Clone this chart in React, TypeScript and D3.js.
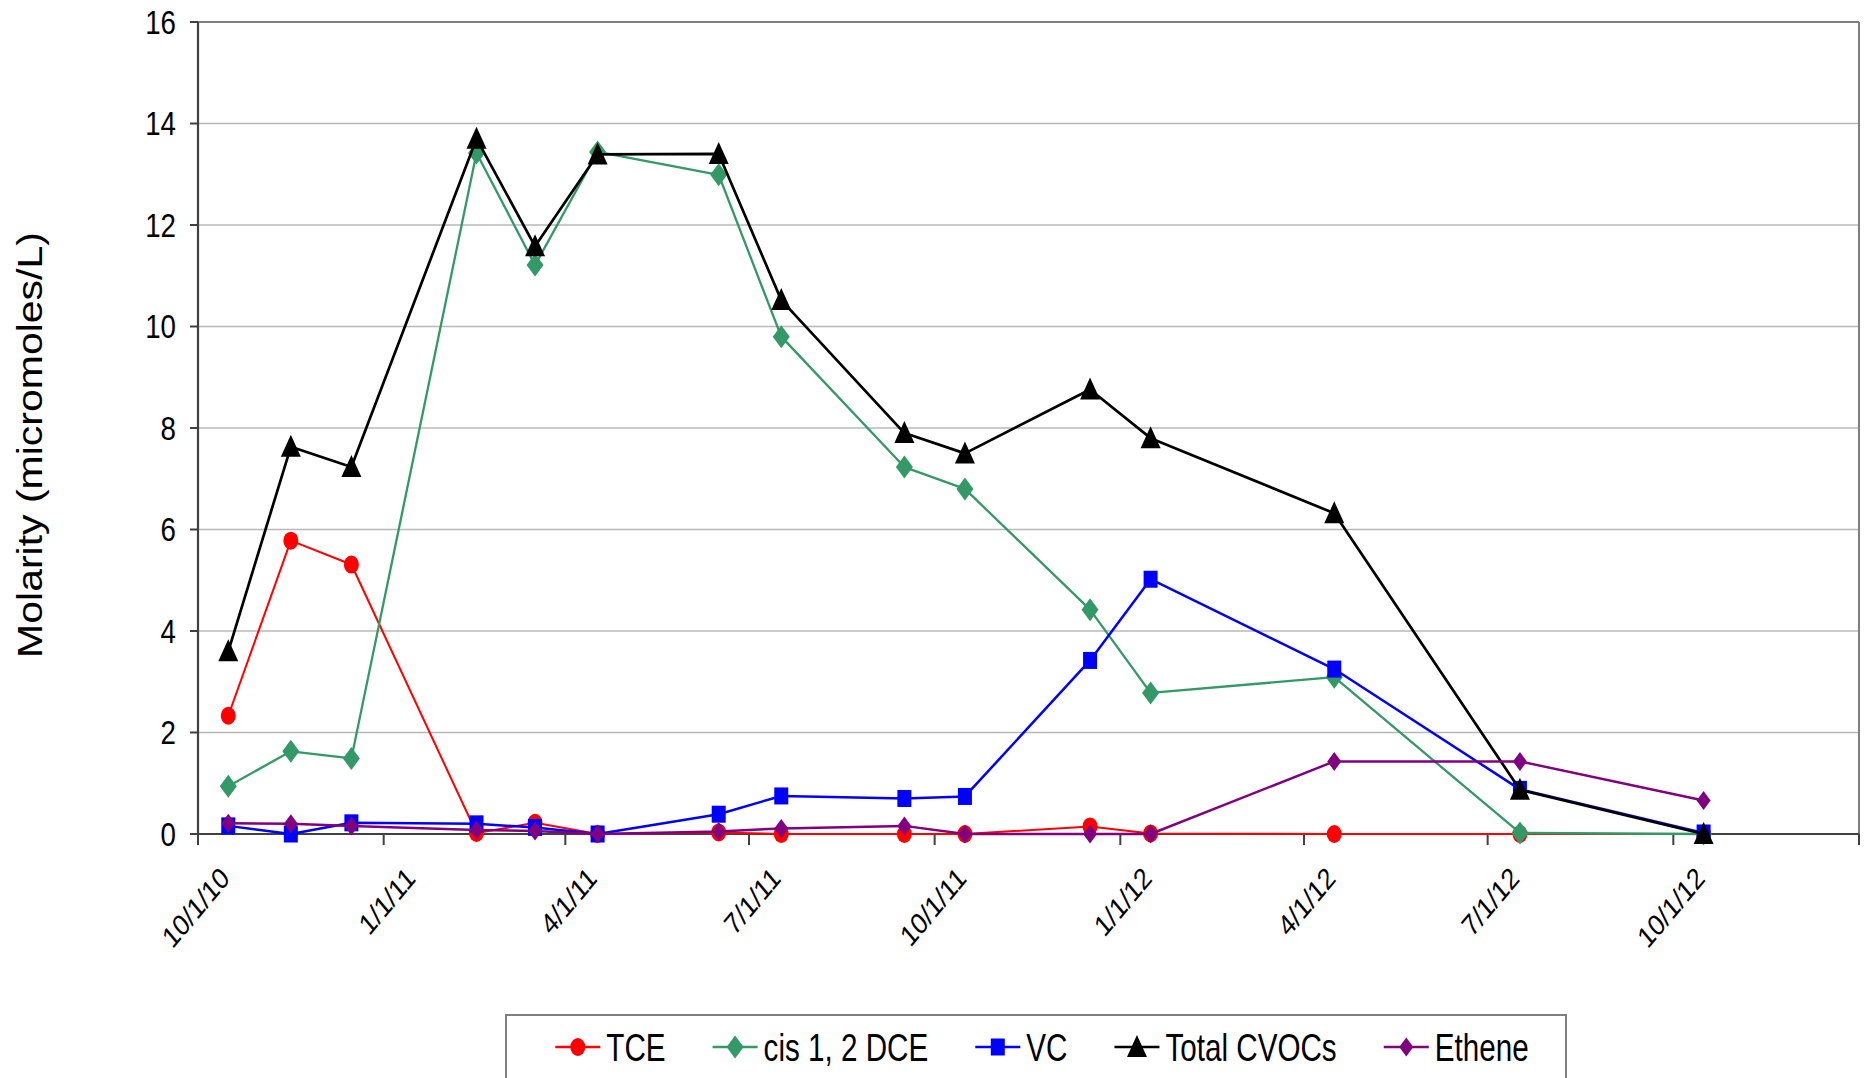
import React, { useEffect } from 'react';
import * as d3 from 'd3';

// ---------- data ----------
const sampleDates = [
  '2010-10-16', '2010-11-16', '2010-12-16', '2011-02-16', '2011-03-17',
  '2011-04-17', '2011-06-16', '2011-07-17', '2011-09-16', '2011-10-16',
  '2011-12-17', '2012-01-16', '2012-04-16', '2012-07-17', '2012-10-16',
];
const tce = [2.33, 5.78, 5.31, 0.02, 0.22, 0, 0.03, 0, 0, 0, 0.15, 0.01, 0, 0, 0];
const cisDce = [0.94, 1.63, 1.49, 13.42, 11.21, 13.44, 12.99, 9.8, 7.23, 6.8, 4.42, 2.78, 3.09, 0.02, 0];
const vc = [0.16, 0, 0.22, 0.2, 0.13, 0, 0.39, 0.75, 0.7, 0.74, 3.42, 5.02, 3.25, 0.88, 0.02];
const totalCvocs = [3.6, 7.63, 7.23, 13.7, 11.58, 13.39, 13.4, 10.52, 7.9, 7.5, 8.76, 7.8, 6.32, 0.87, 0];
const ethene = [0.21, 0.2, 0.16, 0.08, 0.06, 0, 0.05, 0.11, 0.16, 0, 0, 0, 1.43, 1.43, 0.66];

const seriesNames = ['TCE', 'cis 1, 2 DCE', 'VC', 'Total CVOCs', 'Ethene'];
const yTicks = [0, 2, 4, 6, 8, 10, 12, 14, 16];
const xTickDates = [
  '2010-10-01', '2011-01-01', '2011-04-01', '2011-07-01', '2011-10-01',
  '2012-01-01', '2012-04-01', '2012-07-01', '2012-10-01', '2013-01-01',
];
const xTickLabels = ['10/1/10', '1/1/11', '4/1/11', '7/1/11', '10/1/11', '1/1/12', '4/1/12', '7/1/12', '10/1/12', ''];
const yTitle = 'Molarity (micromoles/L)';

// ---------- styling ----------
const W = 1866;
const H = 1078;
const M = { left: 198, right: 1859, top: 22, bottom: 834 };
const FONT = '"Liberation Sans", Arial, sans-serif';

type MarkerKind = 'circle' | 'diamond' | 'square' | 'triangle' | 'smallDiamond';
const seriesStyle: { color: string; marker: MarkerKind; width: number }[] = [
  { color: '#FF0000', marker: 'circle', width: 2 },
  { color: '#339966', marker: 'diamond', width: 2.3 },
  { color: '#0000FF', marker: 'square', width: 2.5 },
  { color: '#000000', marker: 'triangle', width: 2.7 },
  { color: '#800080', marker: 'smallDiamond', width: 2.5 },
];

const parse = d3.timeParse('%Y-%m-%d');

function Marker({ kind, x, y, color }: { kind: MarkerKind; x: number; y: number; color: string }) {
  switch (kind) {
    case 'circle':
      return <ellipse cx={x} cy={y} rx={7.5} ry={9} fill={color} />;
    case 'diamond':
      return <polygon points={`${x},${y - 11.5} ${x + 8.5},${y} ${x},${y + 11.5} ${x - 8.5},${y}`} fill={color} />;
    case 'smallDiamond':
      return <polygon points={`${x},${y - 9.5} ${x + 7},${y} ${x},${y + 9.5} ${x - 7},${y}`} fill={color} />;
    case 'square':
      return <rect x={x - 7} y={y - 8.5} width={14} height={17} fill={color} />;
    case 'triangle':
      return <polygon points={`${x},${y - 12} ${x + 10},${y + 10} ${x - 10},${y + 10}`} fill={color} />;
  }
  return null;
}

let measureCtx: CanvasRenderingContext2D | null = null;
function measure(text: string, size: number) {
  if (!measureCtx) {
    const c = document.createElement('canvas');
    measureCtx = c.getContext('2d');
  }
  if (!measureCtx) return text.length * size * 0.5;
  measureCtx.font = `${size}px "Liberation Sans", Arial, sans-serif`;
  return measureCtx.measureText(text).width;
}

export default function App() {
  useEffect(() => {
    document.body.style.margin = '0';
  }, []);

  const x = d3.scaleTime()
    .domain([parse('2010-10-01') as Date, parse('2013-01-01') as Date])
    .range([M.left, M.right]);
  const y = d3.scaleLinear().domain([0, 16]).range([M.bottom, M.top]);

  const dates = sampleDates.map((d) => parse(d) as Date);
  const allSeries = [tce, cisDce, vc, totalCvocs, ethene];

  const line = d3.line<[Date, number]>()
    .x((d) => x(d[0]))
    .y((d) => y(d[1]));

  // legend layout
  const LFS = 38;
  const LSX = 0.78;
  const lineLen = 45;
  const textGap = 6;
  const itemGap = 47;
  const widths = seriesNames.map((n) => measure(n, LFS) * LSX);
  const totalW = widths.reduce((a, w) => a + lineLen + textGap + w, 0) + itemGap * (seriesNames.length - 1);
  const boxL = 506;
  const boxR = 1566;
  let cursor = (boxL + boxR) / 2 - totalW / 2 + 6;
  const legendItems = seriesNames.map((n, i) => {
    const start = cursor;
    cursor += lineLen + textGap + widths[i] + itemGap;
    return { name: n, start, i };
  });
  const ly = 1047;

  const TSX = 0.84;

  return (
    <svg width={W} height={H} style={{ position: 'absolute', left: 0, top: 0, background: '#fff' }}>
      <rect x={0} y={0} width={W} height={H} fill="#fff" />
      {/* gridlines */}
      {yTicks.filter((t) => t > 0 && t < 16).map((t) => (
        <line key={'g' + t} x1={M.left} x2={M.right} y1={y(t)} y2={y(t)} stroke="#b8b8b8" strokeWidth={1.5} />
      ))}
      {/* plot border top/right */}
      <line x1={M.left} x2={M.right} y1={M.top} y2={M.top} stroke="#7f7f7f" strokeWidth={2} />
      <line x1={M.right} x2={M.right} y1={M.top} y2={M.bottom} stroke="#7f7f7f" strokeWidth={2} />

      {/* y axis */}
      <line x1={M.left} x2={M.left} y1={M.top} y2={M.bottom} stroke="#404040" strokeWidth={2.2} />
      {yTicks.map((t) => (
        <g key={'yt' + t}>
          <line x1={M.left - 8} x2={M.left} y1={y(t)} y2={y(t)} stroke="#404040" strokeWidth={2} />
          <g transform={`translate(176,${y(t)}) scale(${TSX},1)`}>
            <text x={0} y={0} dy="0.36em" textAnchor="end" fontFamily={FONT} fontSize={33} fill="#000">
              {t}
            </text>
          </g>
        </g>
      ))}

      {/* x axis */}
      <line x1={M.left} x2={M.right} y1={M.bottom} y2={M.bottom} stroke="#404040" strokeWidth={2.2} />
      {xTickDates.map((d, i) => {
        const tx = x(parse(d) as Date);
        return (
          <g key={'xt' + d}>
            <line x1={tx} x2={tx} y1={M.bottom} y2={M.bottom + 11} stroke="#404040" strokeWidth={2} />
            {xTickLabels[i] && (
              <g transform={`translate(${tx + 33},${M.bottom + 46}) scale(${TSX},1) rotate(-45)`}>
                <text x={0} y={0} textAnchor="end" fontFamily={FONT} fontSize={29.5} fill="#000">
                  {xTickLabels[i]}
                </text>
              </g>
            )}
          </g>
        );
      })}

      {/* y title */}
      <g transform={`translate(42,445) scale(0.85,1) rotate(-90)`}>
        <text x={0} y={0} textAnchor="middle" fontFamily={FONT} fontSize={41} fill="#000">
          {yTitle}
        </text>
      </g>

      {/* series */}
      {allSeries.map((vals, si) => {
        const pts: [Date, number][] = vals.map((v, j) => [dates[j], v]);
        const st = seriesStyle[si];
        return (
          <g key={'s' + si}>
            <path d={line(pts) || ''} fill="none" stroke={st.color} strokeWidth={st.width} strokeLinejoin="round" />
            {pts.map((p, j) => (
              <Marker key={j} kind={st.marker} x={x(p[0])} y={y(p[1])} color={st.color} />
            ))}
          </g>
        );
      })}

      {/* legend */}
      <rect x={boxL} y={1015} width={boxR - boxL} height={120} fill="#fff" stroke="#7f7f7f" strokeWidth={2} />
      {legendItems.map((it) => {
        const st = seriesStyle[it.i];
        const lx = it.start;
        return (
          <g key={'l' + it.i}>
            <line x1={lx} x2={lx + lineLen} y1={ly} y2={ly} stroke={st.color} strokeWidth={2.5} />
            <Marker kind={st.marker} x={lx + lineLen / 2} y={ly} color={st.color} />
            <g transform={`translate(${lx + lineLen + textGap},${ly}) scale(${LSX},1)`}>
              <text x={0} y={0} dy="0.36em" fontFamily={FONT} fontSize={LFS} fill="#000">
                {it.name}
              </text>
            </g>
          </g>
        );
      })}
    </svg>
  );
}
